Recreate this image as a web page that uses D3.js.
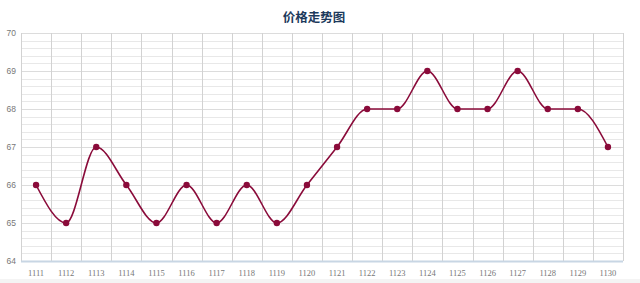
<!DOCTYPE html>
<html>
<head>
<meta charset="utf-8">
<script src="https://cdn.jsdelivr.net/npm/d3@7"></script>
<style>
  body { margin: 0; background: #fff; }
  svg { display: block; font-family: "DejaVu Sans", Arial, sans-serif; }
</style>
</head>
<body>
<div id="chart"></div>
<script>
// Chart data
var days = ["1111", "1112", "1113", "1114", "1115", "1116", "1117", "1118", "1119", "1120",
            "1121", "1122", "1123", "1124", "1125", "1126", "1127", "1128", "1129", "1130"];
var prices = [66, 65, 67, 66, 65, 66, 65, 66, 65, 66, 67, 68, 68, 69, 68, 68, 69, 68, 68, 67];
var yTicks = [64, 65, 66, 67, 68, 69, 70];
var title = "价格走势图";

var svgWidth = 640;
var svgHeight = 283;
var margin = { top: 33, right: 17, bottom: 22, left: 21 };
var chartWidth = svgWidth - margin.left - margin.right;
var chartHeight = svgHeight - margin.top - margin.bottom;

var svg = d3.select("#chart")
  .append("svg")
  .attr("width", svgWidth)
  .attr("height", svgHeight);

// faint bottom strip
svg.append("rect")
  .attr("x", 0).attr("y", 279)
  .attr("width", svgWidth).attr("height", 4)
  .attr("fill", "#f4f4f4");

svg.append("text")
  .attr("x", 314)
  .attr("y", 22)
  .attr("text-anchor", "middle")
  .attr("font-size", 12.5)
  .attr("font-weight", "bold")
  .attr("font-family", "'Noto Sans CJK SC', sans-serif")
  .attr("fill", "#1d3a5c")
  .text(title);

var chartGroup = svg.append("g")
  .attr("transform", `translate(${margin.left}, ${margin.top})`);

var xScale = d3.scaleBand()
  .domain(days)
  .range([0, chartWidth]);

var yScale = d3.scaleLinear()
  .domain([64, 70])
  .range([chartHeight, 0]);

// minor horizontal grid lines (every 0.2)
var minor = d3.range(64, 70.001, 0.2);
chartGroup.append("g")
  .selectAll("line")
  .data(minor)
  .enter()
  .append("line")
  .attr("x1", 0)
  .attr("x2", chartWidth)
  .attr("y1", d => Math.round(yScale(d)) + 0.5)
  .attr("y2", d => Math.round(yScale(d)) + 0.5)
  .attr("stroke", "#e8e8e8");

// major horizontal grid lines
chartGroup.append("g")
  .selectAll("line")
  .data(yTicks)
  .enter()
  .append("line")
  .attr("x1", 0)
  .attr("x2", chartWidth)
  .attr("y1", d => Math.round(yScale(d)) + 0.5)
  .attr("y2", d => Math.round(yScale(d)) + 0.5)
  .attr("stroke", "#dcdcdc");

// vertical grid lines at band edges
var edges = days.map(d => xScale(d)).concat([chartWidth]);
chartGroup.append("g")
  .selectAll("line")
  .data(edges)
  .enter()
  .append("line")
  .attr("x1", d => Math.round(d) + 0.5)
  .attr("x2", d => Math.round(d) + 0.5)
  .attr("y1", 0)
  .attr("y2", chartHeight)
  .attr("stroke", "#d2d2d2");

// bottom axis line
chartGroup.append("line")
  .attr("x1", 0)
  .attr("x2", chartWidth)
  .attr("y1", chartHeight + 0.5)
  .attr("y2", chartHeight + 0.5)
  .attr("stroke", "#c8d6e4")
  .attr("stroke-width", 2);

// y axis labels
var leftAxis = d3.axisLeft(yScale).tickValues(yTicks).tickFormat(d3.format("d")).tickSize(0).tickPadding(5);
var yAxisG = chartGroup.append("g").call(leftAxis);
yAxisG.select(".domain").remove();
yAxisG.selectAll("text")
  .attr("font-size", 8.5)
  .attr("fill", "#777")
  .attr("font-family", "'Liberation Sans', Arial, sans-serif");

// x axis labels
var bottomAxis = d3.axisBottom(xScale).tickSize(0).tickPadding(9);
var xAxisG = chartGroup.append("g")
  .attr("transform", "translate(0, " + chartHeight + ")")
  .call(bottomAxis);
xAxisG.select(".domain").remove();
xAxisG.selectAll("text")
  .attr("font-size", 8.5)
  .attr("fill", "#777")
  .attr("font-family", "'Liberation Serif', serif");

// smooth line
var drawLine = d3.line()
  .x((d, i) => xScale(days[i]) + xScale.bandwidth() / 2)
  .y(d => yScale(d))
  .curve(d3.curveMonotoneX);

chartGroup.append("path")
  .attr("d", drawLine(prices))
  .attr("fill", "none")
  .attr("stroke", "#8a0b3a")
  .attr("stroke-width", 1.6);

chartGroup.append("g")
  .selectAll("circle")
  .data(prices)
  .enter()
  .append("circle")
  .attr("cx", (d, i) => xScale(days[i]) + xScale.bandwidth() / 2)
  .attr("cy", d => yScale(d))
  .attr("r", 3.2)
  .attr("fill", "#8a0b3a");
</script>
</body>
</html>
